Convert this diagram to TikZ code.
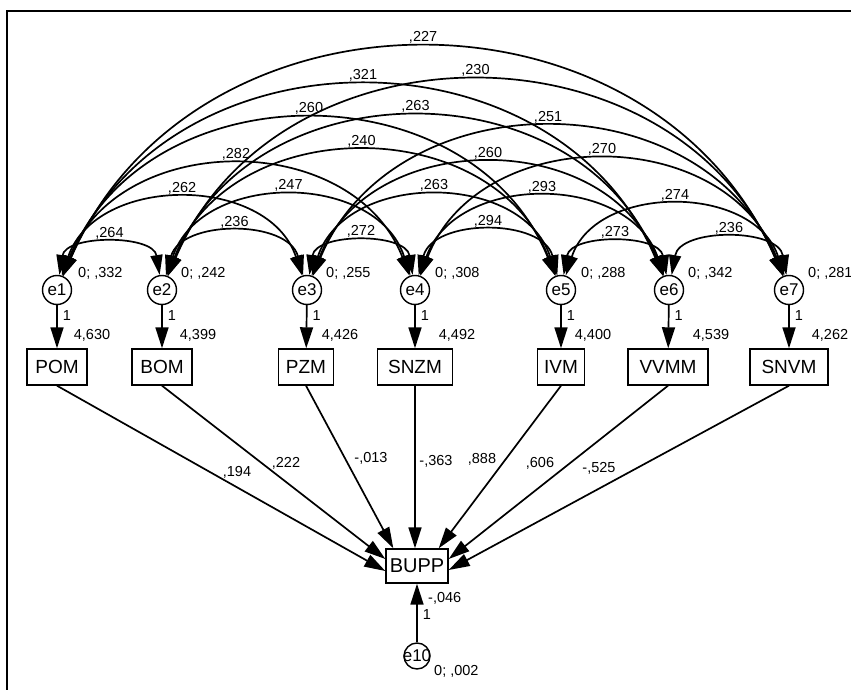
\documentclass[tikz,border=0pt]{standalone}
\usepackage{fontspec}
\setmainfont{Liberation Sans}
\usetikzlibrary{arrows.meta,calc}
\begin{document}
\begin{tikzpicture}[x=1pt,y=1pt,
 lat/.style={circle, draw, line width=1.4pt, minimum size=29pt, inner sep=0pt, font=\fontsize{17}{19}\selectfont},
 obs/.style={rectangle, draw, line width=1.4pt, minimum height=36pt, inner sep=0pt, font=\fontsize{19}{21}\selectfont},
 val/.style={font=\fontsize{14.5}{16}\selectfont, inner sep=1pt},
 arr/.style={line width=1.7pt, -{Triangle[length=21pt,width=13pt]}},
 cov/.style={line width=1.7pt, {Triangle[length=20pt,width=12pt]}-{Triangle[length=20pt,width=12pt]}},
 cl/.style={val, above=3.5pt}
]
\useasboundingbox (0,0) rectangle (851,689);
\draw[line width=2pt] (852,678) -- (7,678) -- (7,-1);

% error terms
\node[lat] (e1) at (57,399) {e1};
\node[lat] (e2) at (162,399) {e2};
\node[lat] (e3) at (307,399) {e3};
\node[lat] (e4) at (415,399) {e4};
\node[lat] (e5) at (561,399) {e5};
\node[lat] (e6) at (669,399) {e6};
\node[lat] (e7) at (789,399) {e7};

% observed variables
\node[obs, minimum width=60pt] (POM) at (57,322) {POM};
\node[obs, minimum width=60pt] (BOM) at (162,322) {BOM};
\node[obs, minimum width=55pt] (PZM) at (306,322) {PZM};
\node[obs, minimum width=75pt] (SNZM) at (415,322) {SNZM};
\node[obs, minimum width=47pt] (IVM) at (561,322) {IVM};
\node[obs, minimum width=80pt] (VVMM) at (668,322) {VVMM};
\node[obs, minimum width=78pt] (SNVM) at (789,322) {SNVM};
\node[obs, minimum width=62pt, minimum height=34pt, font=\fontsize{20}{22}\selectfont] (BUPP) at (417,123) {BUPP};
\node[lat, minimum size=26pt, inner sep=-4pt] (e10) at (417,33) {e10};

% variances
\node[val, anchor=west] (v1) at (77,416) {0; ,332};
\node[val, anchor=west] (v2) at (180,416) {0; ,242};
\node[val, anchor=west] (v3) at (325,416) {0; ,255};
\node[val, anchor=west] (v4) at (434,416) {0; ,308};
\node[val, anchor=west] (v5) at (580,416) {0; ,288};
\node[val, anchor=west] (v6) at (687,416) {0; ,342};
\node[val, anchor=west] (v7) at (807,416) {0; ,281};

% intercepts
\node[val] (i1) at (92,354) {4,630};
\node[val] (i2) at (198,354) {4,399};
\node[val] (i3) at (340,354) {4,426};
\node[val] (i4) at (457,354) {4,492};
\node[val] (i5) at (593,354) {4,400};
\node[val] (i6) at (711,354) {4,539};
\node[val] (i7) at (830,354) {4,262};
\node[val, anchor=west] (i10) at (427,91) {-,046};
\node[val, anchor=west] (v10) at (433,18) {0; ,002};

% error -> observed
\foreach \e/\o in {e1/POM,e2/BOM,e3/PZM,e4/SNZM,e5/IVM,e6/VVMM,e7/SNVM}
  \draw[arr] (\e) -- node[val, pos=0.25, right=4pt] {1} (\o);
\draw[arr] (e10) -- node[val, pos=0.47, right=4pt] {1} (BUPP);

% regressions
\draw[arr] (POM.south) -- ($(BUPP.west)+(0,-5)$);
\draw[arr] (BOM.south) -- ($(BUPP.west)+(0,7)$);
\draw[arr] (PZM.south) -- ($(BUPP.north west)+(8,0)$);
\draw[arr] (SNZM.south) -- ($(BUPP.north)+(-2,0)$);
\draw[arr] (IVM.south) -- ($(BUPP.north east)+(-10,0)$);
\draw[arr] (VVMM.south) -- ($(BUPP.east)+(0,7)$);
\draw[arr] (SNVM.south) -- ($(BUPP.east)+(0,-4)$);
\node[val] (r1) at (237,217) {,194};
\node[val] (r2) at (286,226) {,222};
\node[val] (r3) at (371,231) {-,013};
\node[val] (r4) at (436,228) {-,363};
\node[val] (r5) at (482,230) {,888};
\node[val] (r6) at (540,226) {,606};
\node[val] (r7) at (599,221) {-,525};

% covariances
\draw[cov] (e1) to[out=81,in=99,distance=41pt] node[cl] {,264} (e2);
\draw[cov] (e2) to[out=75,in=105,distance=58pt] node[cl] {,236} (e3);
\draw[cov] (e3) to[out=81,in=99,distance=43pt] node[cl] {,272} (e4);
\draw[cov] (e4) to[out=76,in=104,distance=59pt] node[cl] {,294} (e5);
\draw[cov] (e5) to[out=80,in=100,distance=42pt] node[cl] {,273} (e6);
\draw[cov] (e6) to[out=80,in=100,distance=48pt] node[cl] {,236} (e7);
\draw[cov] (e1) to[out=71.5,in=108.5,distance=107pt] node[cl] {,262} (e3);
\draw[cov] (e2) to[out=72,in=108,distance=110pt] node[cl] {,247} (e4);
\draw[cov] (e3) to[out=72,in=108,distance=110pt] node[cl] {,263} (e5);
\draw[cov] (e4) to[out=71,in=109,distance=109pt] node[cl] {,293} (e6);
\draw[cov] (e5) to[out=72,in=108,distance=97pt] node[cl] {,274} (e7);
\draw[cov] (e1) to[out=69,in=111,distance=157pt] node[cl] {,282} (e4);
\draw[cov] (e2) to[out=69,in=111,distance=176pt] node[cl] {,240} (e5);
\draw[cov] (e3) to[out=69,in=111,distance=159pt] node[cl] {,260} (e6);
\draw[cov] (e4) to[out=69,in=111,distance=164pt] node[cl] {,270} (e7);
\draw[cov] (e1) to[out=68,in=112,distance=224pt] node[cl] {,260} (e5);
\draw[cov] (e2) to[out=68,in=112,distance=227pt] node[cl] {,263} (e6);
\draw[cov] (e3) to[out=67.5,in=112.5,distance=213pt] node[cl] {,251} (e7);
\draw[cov] (e1) to[out=67,in=113,distance=274pt] node[cl] {,321} (e6);
\draw[cov] (e2) to[out=67,in=113,distance=281pt] node[cl] {,230} (e7);
\draw[cov] (e1) to[out=66.5,in=113.5,distance=330pt] node[cl] {,227} (e7);
\end{tikzpicture}
\end{document}
